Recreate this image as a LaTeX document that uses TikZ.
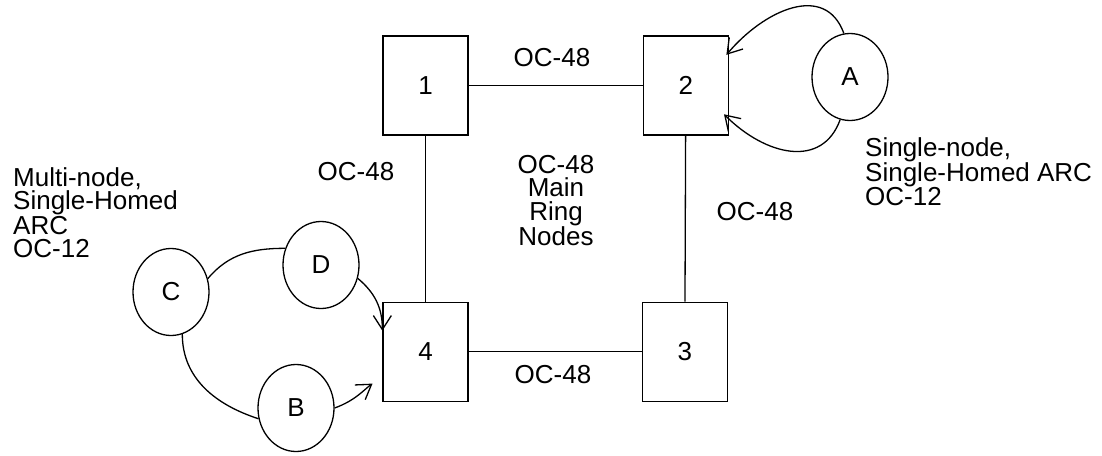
\documentclass[tikz,border=0pt]{standalone}
\usepackage{fontspec}
\setmainfont{Liberation Sans}
\usetikzlibrary{arrows.meta,positioning,shapes.geometric}
\tikzset{
  ringnode/.style={
    draw,
    line width=1.3pt,
    minimum width=85pt,
    minimum height=99pt,
    inner sep=0pt
  },
  arcnode/.style={
    draw,
    ellipse,
    line width=1.3pt,
    minimum width=76pt,
    minimum height=87pt,
    inner sep=0pt
  },
  linklabel/.style={
    anchor=north,
    inner sep=0pt
  },
  notetext/.style={
    anchor=north west,
    align=left,
    inner sep=0pt
  },
  ringline/.style={
    line width=1.3pt
  },
  arcline/.style={
    -{Straight Barb[length=14pt,width=18pt]},
    line width=1.3pt
  }
}

\begin{document}
\begin{tikzpicture}[x=1pt, y=-1pt, font=\fontsize{26}{23.5}\selectfont]
    \useasboundingbox (0,0) rectangle (1102,455);

    \node[ringnode] (one) at (425.5,85.5) {1};
    \node[ringnode, right=174pt of one] (two) {2};
    \node[ringnode, below=166pt of one] (four) {4};
    \node[ringnode, right=173pt of four] (three) {3};

    \node[arcnode] (A) at (850,77) {A};
    \node[arcnode] (C) at (171,292) {C};
    \node[arcnode] (D) at (321,265) {D};
    \node[arcnode] (B) at (296,408) {B};

    \draw[ringline] (one) -- (two);
    \draw[ringline] (two) -- (three);
    \draw[ringline] (three) -- (four);
    \draw[ringline] (four) -- (one);

    \draw[arcline, shorten >=-4pt] (A.98) to[out=110, in=50, looseness=1.2] (two.38);
    \draw[arcline, shorten >=-7pt] (A.-103) to[out=-110, in=-45, looseness=1.2] (two.-38);

    \draw[ringline] (C.20) to[out=50, in=180] (D.155);
    \draw[ringline] (C.-75) to[out=-90, in=162] (B.-164);
    \draw[arcline] (D.-20) to[out=-40, in=90] (four.154);
    \draw[arcline, shorten >=12pt] (B.east) to[out=20, in=-145] (four.-150);

    \node[linklabel] (lbl12) at (552,48) {OC-48};
    \node[linklabel] (lbl14) at (356,162) {OC-48};
    \node[linklabel] (lbl23) at (755,202) {OC-48};
    \node[linklabel] (lbl43) at (553,365) {OC-48};
    \node[linklabel, align=center] (ringtext) at (556,155) {OC-48\\Main\\Ring\\Nodes};

    \node[notetext] (multinote) at (13,167) {Multi-node,\\Single-Homed\\ARC\\OC-12};
    \node[notetext] (singlenote) at (865,137) {Single-node,\\Single-Homed ARC\\OC-12};
\end{tikzpicture}
\end{document}
